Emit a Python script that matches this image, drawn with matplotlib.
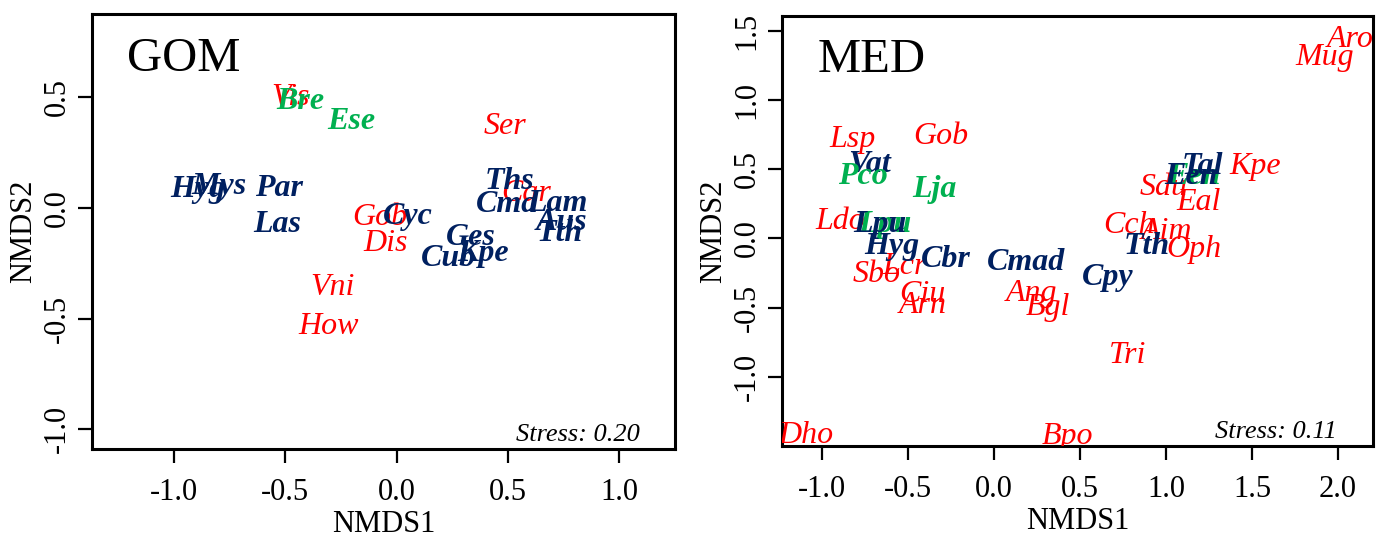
import matplotlib
matplotlib.use('Agg')
import matplotlib.pyplot as plt

plt.rcParams['font.family'] = ['Liberation Serif', 'DejaVu Serif']
plt.rcParams['axes.unicode_minus'] = False

# GOM 排序结果（标签按绘制顺序）
gom_species = ['Vis', 'Ser', 'Gob', 'Dis', 'Vni', 'How', 'Car',
               'Hyg', 'Mys', 'Par', 'Las', 'Cyc', 'Ths', 'Cma', 'Lam',
               'Aus', 'Tth', 'Ges', 'Kpe', 'Cub',
               'Bre', 'Ese']
gom_nmds1 = [-0.474, 0.487, -0.075, -0.048, -0.286, -0.304, 0.581,
             -0.892, -0.798, -0.528, -0.535, 0.051, 0.509, 0.496, 0.721,
             0.739, 0.734, 0.334, 0.388, 0.235,
             -0.434, -0.205]
gom_nmds2 = [0.500, 0.368, -0.042, -0.158, -0.361, -0.536, 0.064,
             0.086, 0.097, 0.090, -0.076, -0.036, 0.122, 0.014, 0.019,
             -0.067, -0.117, -0.135, -0.203, -0.230,
             0.484, 0.390]
gom_group = ['r'] * 7 + ['n'] * 13 + ['g'] * 2

# MED 排序结果
med_species = ['Lsp', 'Gob', 'Ldo', 'Sbo', 'Lcr', 'Ciu', 'Arn', 'Ang', 'Bgl',
               'Tri', 'Cch', 'Aim', 'Oph', 'Sdu', 'Eal', 'Kpe', 'Aro', 'Mug',
               'Dho', 'Bpo',
               'Lpu', 'Een',
               'Vat', 'Lpu', 'Hyg', 'Cbr', 'Cmad', 'Cpy', 'Tth', 'Een', 'Tal',
               'Pco', 'Lja']
med_nmds1 = [-0.827, -0.309, -0.894, -0.684, -0.519, -0.420, -0.414, 0.220, 0.313,
             0.775, 0.785, 1.005, 1.165, 0.983, 1.192, 1.517, 2.070, 1.924,
             -1.095, 0.424,
             -0.635, 1.165,
             -0.723, -0.664, -0.595, -0.280, 0.185, 0.659, 0.889, 1.145, 1.209,
             -0.763, -0.350]
med_nmds2 = [0.714, 0.738, 0.120, -0.263, -0.200, -0.403, -0.486, -0.396, -0.500,
             -0.843, 0.091, 0.050, -0.082, 0.365, 0.257, 0.517, 1.433, 1.303,
             -1.424, -1.431,
             0.098, 0.447,
             0.531, 0.098, -0.058, -0.154, -0.176, -0.284, -0.061, 0.447, 0.519,
             0.444, 0.353]
med_group = ['r'] * 20 + ['g'] * 2 + ['n'] * 9 + ['g'] * 2

styles = {
    'r': dict(color='#FF0000', fontweight='normal'),
    'n': dict(color='#002060', fontweight='bold'),
    'g': dict(color='#00B050', fontweight='bold'),
}


def draw_panel(ax, species, x, y, group, title, stress, xlim, ylim, xticks, yticks):
    for i, (name, xi, yi, g) in enumerate(zip(species, x, y, group)):
        ax.text(xi, yi, name, ha='center', va='center', fontsize=23,
                fontstyle='italic', zorder=3 + i * 0.01, clip_on=True, **styles[g])
    ax.set_xlim(*xlim)
    ax.set_ylim(*ylim)
    ax.set_xticks(xticks)
    ax.set_yticks(yticks)
    ax.set_xticklabels(['%.1f' % v for v in xticks], fontsize=22)
    ax.set_yticklabels(['%.1f' % v for v in yticks], fontsize=22,
                       rotation=90, va='center')
    ax.tick_params(direction='out', length=10, width=1.6, pad=11)
    ax.tick_params(axis='y', pad=5)
    for s in ax.spines.values():
        s.set_linewidth(2.2)
    ax.set_xlabel('NMDS1', fontsize=22, labelpad=2)
    ax.set_ylabel('NMDS2', fontsize=22, labelpad=3)
    ax.text(0.06, 0.869, title, transform=ax.transAxes, fontsize=35,
            ha='left', va='baseline')
    ax.text(0.94, 0.032, 'Stress: ' + stress, transform=ax.transAxes,
            fontsize=19, fontstyle='italic', ha='right', va='center')


fig = plt.figure(figsize=(13.84, 5.41), dpi=100)
ax1 = fig.add_axes([0.0667, 0.170, 0.421, 0.804])
ax2 = fig.add_axes([0.5652, 0.1756, 0.4266, 0.7954])

draw_panel(ax1, gom_species, gom_nmds1, gom_nmds2, gom_group, 'GOM', '0.20',
           (-1.367, 1.251), (-1.089, 0.877),
           [-1.0, -0.5, 0.0, 0.5, 1.0], [-1.0, -0.5, 0.0, 0.5])
draw_panel(ax2, med_species, med_nmds1, med_nmds2, med_group, 'MED', '0.11',
           (-1.233, 2.202), (-1.50, 1.608),
           [-1.0, -0.5, 0.0, 0.5, 1.0, 1.5, 2.0], [-1.0, -0.5, 0.0, 0.5, 1.0, 1.5])

fig.savefig('out.png', dpi=100)
